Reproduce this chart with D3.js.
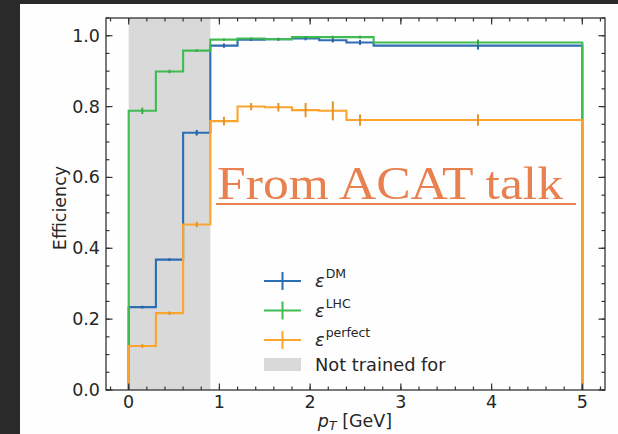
<!DOCTYPE html>
<html>
<head>
<meta charset="utf-8">
<script src="https://cdn.jsdelivr.net/npm/d3@7"></script>
<style>
  body { margin: 0; background: #2a2a2a; }
  svg { display: block; }
</style>
</head>
<body>
<svg></svg>
<script>
// bin edges in pT [GeV]
var binEdges = [0, 0.3, 0.6, 0.9, 1.2, 1.5, 1.8, 2.1, 2.4, 2.7, 5.0];

var effDM      = [0.234, 0.368, 0.726, 0.972, 0.989, 0.990, 0.992, 0.987, 0.981, 0.972];
var errDM      = [0.004, 0.004, 0.008, 0.006, 0.004, 0.004, 0.005, 0.006, 0.007, 0.011];
var effLHC     = [0.788, 0.899, 0.958, 0.989, 0.992, 0.990, 0.996, 0.996, 0.996, 0.981];
var errLHC     = [0.009, 0.005, 0.004, 0.003, 0.003, 0.003, 0.003, 0.004, 0.004, 0.008];
var effPerfect = [0.124, 0.217, 0.467, 0.759, 0.800, 0.798, 0.790, 0.788, 0.762, 0.762];
var errPerfect = [0.005, 0.005, 0.008, 0.012, 0.010, 0.012, 0.020, 0.027, 0.016, 0.016];

var notTrained = [0, 0.9];

var xTicks = [0, 1, 2, 3, 4, 5];
var yTicks = [0, 0.2, 0.4, 0.6, 0.8, 1.0];

var series = [
    {name: "DM", eff: effDM, err: errDM, color: "#2d6db3"},
    {name: "LHC", eff: effLHC, err: errLHC, color: "#3fbc50"},
    {name: "perfect", eff: effPerfect, err: errPerfect, color: "#fca52e"}
];

var width = 618, height = 434;
var svg = d3.select("svg").attr("width", width).attr("height", height);

// white slide panel
svg.append("rect")
    .attr("x", 20).attr("y", 4)
    .attr("width", width - 20).attr("height", height - 4)
    .attr("fill", "#fefefe");

var x = d3.scaleLinear().domain([-0.25, 5.25]).range([106, 605]);
var y = d3.scaleLinear().domain([0, 1.05]).range([390, 18]);

var font = "DejaVu Sans, sans-serif";

// shaded region
svg.append("rect")
    .attr("x", x(notTrained[0]))
    .attr("y", y(1.05))
    .attr("width", x(notTrained[1]) - x(notTrained[0]))
    .attr("height", y(0) - y(1.05))
    .attr("fill", "#d9d9d9");

// step histograms
function stepPoints(eff) {
    var pts = [[binEdges[0], 0]];
    eff.forEach(function(v, i) {
        pts.push([binEdges[i], v]);
        pts.push([binEdges[i + 1], v]);
    });
    pts.push([binEdges[binEdges.length - 1], 0]);
    return pts;
}

var line = d3.line().x(d => x(d[0])).y(d => y(d[1]));

series.forEach(function(s) {
    svg.append("path")
        .attr("d", line(stepPoints(s.eff)))
        .attr("fill", "none")
        .attr("stroke", s.color)
        .attr("stroke-width", 2.1)
        .attr("stroke-linejoin", "miter");
});

// error bars at bin centres
series.forEach(function(s) {
    svg.append("g").selectAll("line")
        .data(s.eff)
        .join("line")
        .attr("x1", (d, i) => x((binEdges[i] + binEdges[i + 1]) / 2))
        .attr("x2", (d, i) => x((binEdges[i] + binEdges[i + 1]) / 2))
        .attr("y1", (d, i) => y(d - s.err[i]))
        .attr("y2", (d, i) => y(d + s.err[i]))
        .attr("stroke", d3.color(s.color).darker(0.3))
        .attr("stroke-width", 2);
});

// frame
svg.append("rect")
    .attr("x", x(-0.25)).attr("y", y(1.05))
    .attr("width", x(5.25) - x(-0.25))
    .attr("height", y(0) - y(1.05))
    .attr("fill", "none")
    .attr("stroke", "#333")
    .attr("stroke-width", 1.3);

// inward ticks on all four sides
var xMinor = d3.range(-0.2, 5.21, 0.2);
var yMinor = d3.range(0, 1.051, 0.05);
var ticks = svg.append("g").attr("stroke", "#333").attr("stroke-width", 1.2);

function addX(vals, len) {
    vals.forEach(function(v) {
        ticks.append("line").attr("x1", x(v)).attr("x2", x(v)).attr("y1", y(0)).attr("y2", y(0) - len);
        ticks.append("line").attr("x1", x(v)).attr("x2", x(v)).attr("y1", y(1.05)).attr("y2", y(1.05) + len);
    });
}
function addY(vals, len) {
    vals.forEach(function(v) {
        ticks.append("line").attr("y1", y(v)).attr("y2", y(v)).attr("x1", x(-0.25)).attr("x2", x(-0.25) + len);
        ticks.append("line").attr("y1", y(v)).attr("y2", y(v)).attr("x1", x(5.25)).attr("x2", x(5.25) - len);
    });
}
addX(xMinor, 3.5);
addX(xTicks, 6.5);
addY(yMinor, 3.5);
addY(yTicks, 6.5);

// tick labels
svg.append("g").selectAll("text")
    .data(xTicks)
    .join("text")
    .attr("x", d => x(d))
    .attr("y", 408)
    .attr("text-anchor", "middle")
    .attr("font-family", font)
    .attr("font-size", 17.5)
    .attr("fill", "#262626")
    .text(d => d);

svg.append("g").selectAll("text")
    .data(yTicks)
    .join("text")
    .attr("x", 100)
    .attr("y", d => y(d) + 6)
    .attr("text-anchor", "end")
    .attr("font-family", font)
    .attr("font-size", 17.5)
    .attr("fill", "#262626")
    .text(d => d.toFixed(1));

// axis labels
var xl = svg.append("text")
    .attr("x", 355)
    .attr("y", 427)
    .attr("text-anchor", "middle")
    .attr("font-family", font)
    .attr("font-size", 17.5)
    .attr("fill", "#262626");
xl.append("tspan").attr("font-style", "italic").text("p");
xl.append("tspan").attr("font-style", "italic").attr("font-size", 12.5).attr("dy", 3).text("T");
xl.append("tspan").attr("dy", -3).text(" [GeV]");

svg.append("text")
    .attr("transform", "translate(66,208) rotate(-90)")
    .attr("text-anchor", "middle")
    .attr("font-family", font)
    .attr("font-size", 17.5)
    .attr("fill", "#262626")
    .text("Efficiency");

// legend
var legend = svg.append("g");
var rowY = [281, 310.5, 340];
series.forEach(function(s, i) {
    var gy = rowY[i];
    legend.append("line").attr("x1", 264).attr("x2", 301).attr("y1", gy).attr("y2", gy)
        .attr("stroke", s.color).attr("stroke-width", 2);
    legend.append("line").attr("x1", 282.5).attr("x2", 282.5).attr("y1", gy - 9).attr("y2", gy + 9)
        .attr("stroke", s.color).attr("stroke-width", 2);
    var t = legend.append("text")
        .attr("x", 315).attr("y", gy + 6)
        .attr("font-family", font)
        .attr("font-size", 17.8)
        .attr("fill", "#262626");
    t.append("tspan").attr("font-style", "italic").text("\u03b5");
    t.append("tspan").attr("font-size", 12.5).attr("dy", -9).attr("dx", 1).text(s.name);
});
legend.append("rect")
    .attr("x", 264).attr("y", 358).attr("width", 37).attr("height", 13)
    .attr("fill", "#d9d9d9");
legend.append("text")
    .attr("x", 315).attr("y", 371)
    .attr("font-family", font)
    .attr("font-size", 17.8)
    .attr("fill", "#262626")
    .text("Not trained for");

// slide annotation
svg.append("text")
    .attr("x", 217)
    .attr("y", 199)
    .attr("font-family", "Liberation Serif, serif")
    .attr("font-size", 47)
    .attr("fill", "#e8804f")
    .attr("textLength", 346)
    .attr("lengthAdjust", "spacingAndGlyphs")
    .text("From ACAT talk");
svg.append("line")
    .attr("x1", 216).attr("x2", 576)
    .attr("y1", 204).attr("y2", 204)
    .attr("stroke", "#e8804f")
    .attr("stroke-width", 2.2);
</script>
</body>
</html>
